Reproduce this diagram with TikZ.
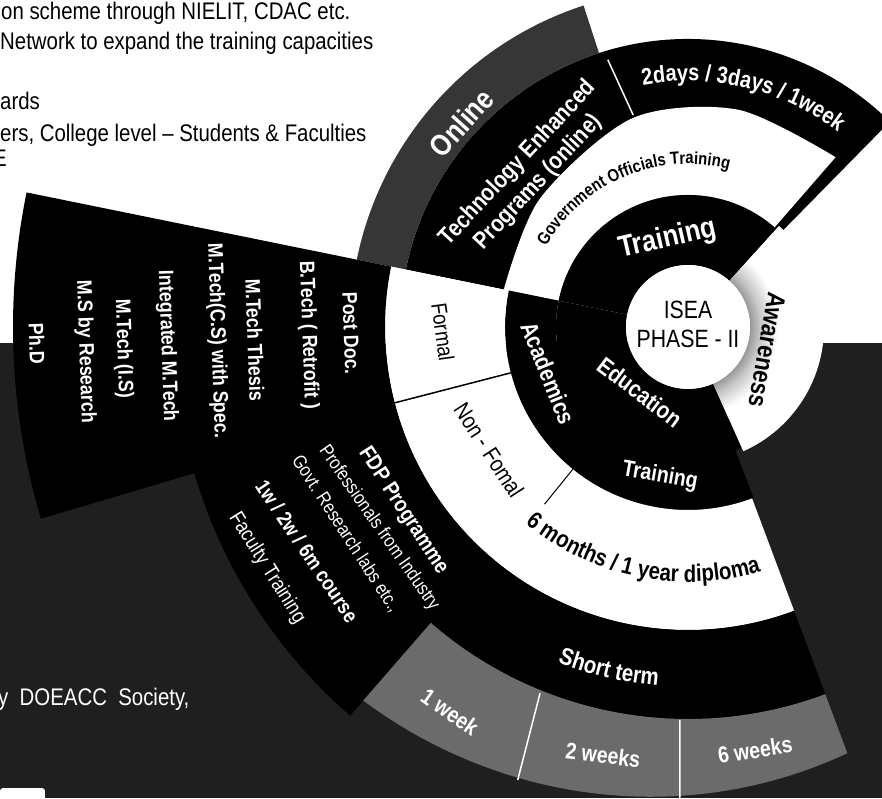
\documentclass[tikz,border=0pt]{standalone}
\usepackage{fontspec}
\setmainfont{Liberation Sans}[FakeStretch=0.85]
\usetikzlibrary{decorations.text}

\definecolor{bgdark}{gray}{0.12}
\definecolor{onlinegray}{gray}{0.21}
\definecolor{weekgray}{gray}{0.42}

\newcommand{\fs}[1]{\fontsize{#1}{#1}\selectfont}
% annular sector: [fill]{start angle}{end angle}{inner r}{outer r}
\newcommand{\ringsector}[5][black]{%
  \fill[#1] (#2:#4) arc[start angle=#2, end angle=#3, radius=#4]
    -- (#3:#5) arc[start angle=#3, end angle=#2, radius=#5] -- cycle;}

\pgfdeclareradialshading{awglow}{\pgfpoint{0bp}{0bp}}{color(0bp)=(black!40);
  color(15.5bp)=(black!40); color(18bp)=(black!22); color(22.5bp)=(white); color(50bp)=(white)}

\tikzset{
  wlbl/.style={text=white, inner sep=0pt},
  klbl/.style={text=black, inner sep=0pt},
  sepline/.style={line width=1.5pt},
}

\begin{document}
\begin{tikzpicture}[x=1pt, y=1pt]
\useasboundingbox (-688,-471) rectangle (194,327);
\fill[white] (-688,-471) rectangle (194,327);
% dark lower background
\fill[bgdark] (-688,-471) rectangle (194,-16);
\fill[white, rounded corners=3pt] (-688,-476) rectangle (-643,-461);

% training side
\ringsector{45.5}{168.5}{132}{288}
\ringsector[onlinegray]{108}{168.5}{288}{338}
\fill[white] (49:132) arc[start angle=49, end angle=168.5, radius=132]
  -- plot[smooth] coordinates {(168.5:188) (139:196) (105:216) (77:223) (49:225)} -- cycle;
\draw[white, sepline] (104.5:219) -- (106.7:279);
\ringsector{48}{168.5}{62}{132}

% education side
\ringsector{168.5}{294}{62}{132}
\ringsector{168.5}{291}{132}{183}
\ringsector[white]{168.5}{290.5}{183}{303}
\ringsector{168.5}{196.5}{303}{675}
\ringsector{196.5}{229}{303}{515}
\ringsector{229}{290.5}{303}{392}
\fill[weekgray] (229:392) arc[start angle=229, end angle=290.5, radius=392]
  -- plot[domain=290.5:229, samples=40] (\x:{455+40*(290.5-\x)/61.5}) -- cycle;
\draw[sepline] (194.5:183) -- (194.5:303);
\draw[line width=1pt] (231:183) -- (231:228);
\draw[white, sepline] (248:395) -- (249.4:484);
\draw[white, sepline] (268.8:393) -- (269:471);

% awareness
\ringsector[white]{294}{408}{62}{136}
\begin{scope}
  \clip (294:62) arc[start angle=294, end angle=408, radius=62]
    -- (408:136) arc[start angle=408, end angle=294, radius=136] -- cycle;
  \shade[shading=awglow] (0,0) circle[radius=100];
\end{scope}
\fill[white] (0,0) circle[radius=62];

% centre and inner rings
\node[klbl, align=center, font=\fontsize{25}{29}\selectfont] (isea) at (0,3) {ISEA\\PHASE - II};
\node[wlbl, font=\fs{30}\bfseries, rotate=13] (training) at (103:90) {Training};
\node[wlbl, font=\fs{24}\bfseries, rotate=-37] (education) at (-48,-65) {Education};
\node[klbl, font=\fs{26}\bfseries, rotate=-100] (awareness) at (79,-23) {Awareness};
\node[wlbl, font=\fs{24}\bfseries, rotate=-68] (academics) at (-140,-46) {Academics};
\node[wlbl, font=\fs{23}\bfseries, rotate=-10] (edutraining) at (-28,-149) {Training};

% curved labels
\path[decorate, decoration={text along path, text align=center,
  text={|\fs{17.5}\bfseries|Government Officials Training}}]
  (153:163) arc[start angle=153, end angle=73, radius=163];
\path[decorate, decoration={text along path, text align=center,
  text={|\fs{23.5}\bfseries\color{white}|2days / 3days / 1week}}]
  (108:246) arc[start angle=108, end angle=45, radius=246];
\path[decorate, decoration={text along path, text align=center,
  text={|\fs{24}\bfseries|6 months / 1 year diploma}}]
  (226:255) arc[start angle=226, end angle=291, radius=255];
\path[decorate, decoration={text along path, text align=center,
  text={|\fs{24}\bfseries\color{white}|Short term}}]
  (245:360) arc[start angle=245, end angle=269, radius=360];

% online training
\node[wlbl, align=center, font=\fontsize{24}{28}\selectfont\bfseries, rotate=47] (tep) at (136:222)
  {Technology Enhanced\\Programs (online)};
\node[wlbl, font=\fs{30}\bfseries, rotate=48] (online) at (138:305) {Online};

% formal / non-formal
\node[klbl, font=\fs{22}, rotate=-82] (formal) at (-245,-5) {Formal};
\node[klbl, font=\fs{23}, rotate=-57] (nonformal) at (-199,-123) {Non - Fomal};

% academic programmes
\node[wlbl, font=\fs{21}\bfseries, rotate=-88] (postdoc) at (-337,-6) {Post Doc.};
\node[wlbl, font=\fs{21}\bfseries, rotate=-88] (btech) at (-380,-8) {B.Tech ( Retrofit )};
\node[wlbl, font=\fs{21}\bfseries, rotate=-88] (thesis) at (-433,-13) {M.Tech Thesis};
\node[wlbl, font=\fs{21}\bfseries, rotate=-88] (mtechcs) at (-471,-14) {M.Tech(C.S) with Spec.};
\node[wlbl, font=\fs{21}\bfseries, rotate=-88] (integrated) at (-521,-19) {Integrated M.Tech};
\node[wlbl, font=\fs{21}\bfseries, rotate=-88] (mtechis) at (-565,-22) {M.Tech (I.S)};
\node[wlbl, font=\fs{21}\bfseries, rotate=-88] (msres) at (-603,-25) {M.S by Research};
\node[wlbl, font=\fs{21}\bfseries, rotate=-88] (phd) at (-651,-17) {Ph.D};

% fdp
\node[wlbl, font=\fs{22}\bfseries, rotate=-57] (fdp) at (-285,-184) {FDP Programme};
\node[wlbl, font=\fs{19}, rotate=-55] (prof) at (-309,-201) {Professionals from Industry};
\node[wlbl, font=\fs{19}, rotate=-57] (govt) at (-342,-207) {Govt. Research labs etc.,};
\node[wlbl, font=\fs{21}\bfseries, rotate=-56] (course) at (-381,-224) {1w / 2w / 6m course};
\node[wlbl, font=\fs{21}, rotate=-58] (faculty) at (-421,-241) {Faculty Training};

% short term weeks
\node[wlbl, font=\fs{23}\bfseries, rotate=-35] (week1) at (-238,-385) {1 week};
\node[wlbl, font=\fs{23}\bfseries, rotate=-7] (week2) at (-85,-428) {2 weeks};
\node[wlbl, font=\fs{23}\bfseries, rotate=9] (week6) at (67,-423) {6 weeks};

% page text around the chart
\node[klbl, anchor=base west, font=\fs{24}] (note1) at (-687,307) {on scheme through NIELIT, CDAC etc.};
\node[klbl, anchor=base west, font=\fs{24}] (note2) at (-688,277) {Network to expand the training capacities};
\node[klbl, anchor=base west, font=\fs{24}] (note3) at (-688,217) {ards};
\node[klbl, anchor=base west, font=\fs{24}] (note4) at (-688,185) {ers, College level -- Students \& Faculties};
\node[klbl, anchor=base east, font=\fs{24}] (note5) at (-681,160) {E};
\node[wlbl, anchor=base west, font=\fs{24}] (doeacc) at (-690,-378) {y\ \ DOEACC\ \ Society,};
\end{tikzpicture}
\end{document}
